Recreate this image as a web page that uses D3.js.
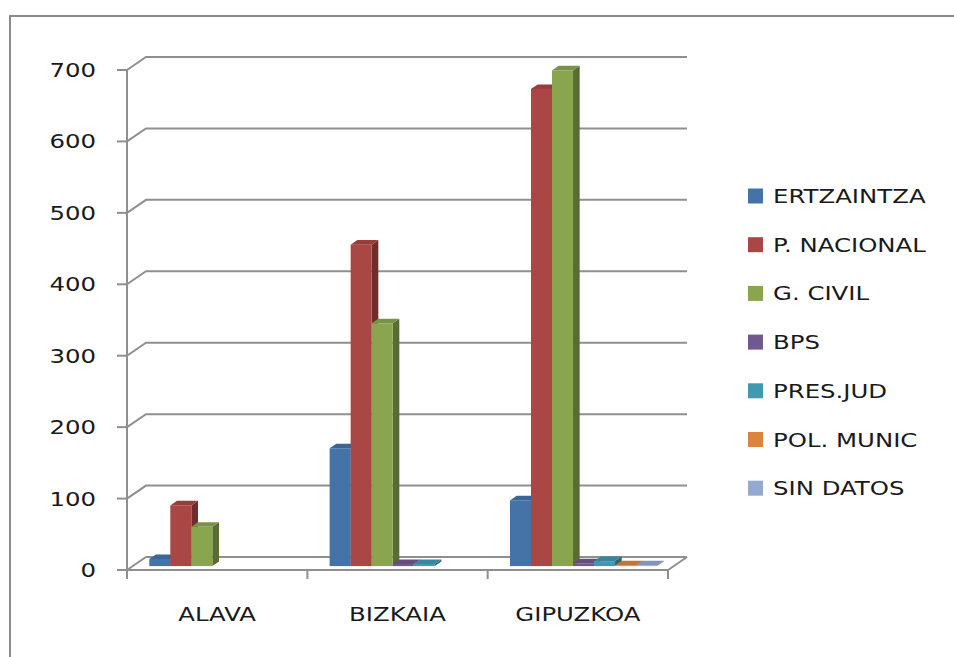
<!DOCTYPE html>
<html>
<head>
<meta charset="utf-8">
<script src="https://cdn.jsdelivr.net/npm/d3@7"></script>
<style>
  body { margin: 0; background: #fff; }
  text { font-family: "DejaVu Sans", sans-serif; fill: #1a1a1a; }
</style>
</head>
<body>
<div id="chart"></div>
<script>
// categories and series
const categories = ["ALAVA", "BIZKAIA", "GIPUZKOA"];
const seriesNames = ["ERTZAINTZA", "P. NACIONAL", "G. CIVIL", "BPS", "PRES.JUD", "POL. MUNIC", "SIN DATOS"];
const seriesColors = ["#4572A7", "#AA4643", "#89A54E", "#71588F", "#4198AF", "#DB843D", "#93A9CF"];

// values per series, in category order
const ertzaintza = [10, 165, 92];
const pNacional = [85, 450, 668];
const gCivil = [55, 340, 694];
const bps = [0, 3, 4];
const presJud = [0, 3, 7];
const polMunic = [0, 0, 1];
const sinDatos = [0, 0, 1];
const seriesValues = [ertzaintza, pNacional, gCivil, bps, presJud, polMunic, sinDatos];

const yTicks = [0, 100, 200, 300, 400, 500, 600, 700];

const W = 954, H = 657;
const stretch = 1.22; // the text in the picture is drawn wide

const svg = d3.select("#chart").append("svg")
  .attr("width", W)
  .attr("height", H);

// outer frame (only top and left are visible)
svg.append("path")
  .attr("d", "M10,657 L10,16 L954,16")
  .attr("fill", "none")
  .attr("stroke", "#8a8a8a")
  .attr("stroke-width", 2);

// plot geometry
const left = 127, right = 668;
const depth = { x: 19, y: -13 }; // floor depth vector

const x0 = d3.scaleBand().domain(categories).range([left, right]);
const x1 = d3.scaleBand().domain(seriesNames).range([0, x0.bandwidth()])
  .paddingInner(0).paddingOuter(0.79);
const y = d3.scaleLinear().domain([0, 700]).range([570, 70]);

const axisColor = "#8f8f8f";
const grid = svg.append("g")
  .attr("fill", "none")
  .attr("stroke", axisColor)
  .attr("stroke-width", 2);

// back wall gridlines with the little diagonal from the axis
yTicks.forEach(v => {
  const yy = y(v);
  grid.append("path")
    .attr("d", `M${left},${yy} L${left + depth.x},${yy + depth.y} L${right + depth.x},${yy + depth.y}`);
  // tick
  grid.append("line")
    .attr("x1", left - 10).attr("x2", left)
    .attr("y1", yy).attr("y2", yy);
});

// vertical axis
grid.append("line")
  .attr("x1", left).attr("x2", left)
  .attr("y1", y(700)).attr("y2", y(0));

// floor front edge and right diagonal
grid.append("path")
  .attr("d", `M${left},${y(0)} L${right},${y(0)} L${right + depth.x},${y(0) + depth.y}`);

// category ticks
const catEdges = categories.map(c => x0(c)).concat([right]);
catEdges.forEach(xx => {
  grid.append("line")
    .attr("x1", xx).attr("x2", xx)
    .attr("y1", y(0)).attr("y2", y(0) + 9);
});

// y tick labels
svg.append("g").selectAll("text")
  .data(yTicks)
  .join("text")
  .attr("transform", d => `translate(96,${y(d)}) scale(${stretch},1)`)
  .attr("text-anchor", "end")
  .attr("dy", "0.35em")
  .attr("font-size", 20)
  .text(d => d);

// category labels
svg.append("g").selectAll("text")
  .data(categories)
  .join("text")
  .attr("transform", d => `translate(${x0(d) + x0.bandwidth() / 2},${614}) scale(${stretch},1)`)
  .attr("text-anchor", "middle")
  .attr("dy", "0.35em")
  .attr("font-size", 20)
  .text(d => d);

// 3d bars: front plane at 30% of depth, bar depth 35%
const fz = 0.3, bz = 0.35;
const fdx = depth.x * fz, fdy = depth.y * fz;
const ddx = depth.x * bz, ddy = depth.y * bz;

const bars = svg.append("g");
categories.forEach((cat, ci) => {
  seriesNames.forEach((s, si) => {
    const v = seriesValues[si][ci];
    if (!v) return;
    const c = d3.color(seriesColors[si]);
    const xl = x0(cat) + x1(s) + fdx;
    const w = x1.bandwidth();
    const yb = y(0) + fdy;
    const yt = y(v) + fdy;
    const g = bars.append("g");
    // right side face
    g.append("polygon")
      .attr("points", [[xl + w, yt], [xl + w + ddx, yt + ddy], [xl + w + ddx, yb + ddy], [xl + w, yb]].join(" "))
      .attr("fill", c.darker(1.2));
    // top face
    g.append("polygon")
      .attr("points", [[xl, yt], [xl + w, yt], [xl + w + ddx, yt + ddy], [xl + ddx, yt + ddy]].join(" "))
      .attr("fill", c.darker(0.35));
    // front face
    g.append("rect")
      .attr("x", xl).attr("y", yt)
      .attr("width", w).attr("height", yb - yt)
      .attr("fill", c);
  });
});

// legend
const legend = svg.append("g");
seriesNames.forEach((s, i) => {
  const cy = 196 + i * 48.7;
  legend.append("rect")
    .attr("x", 748).attr("y", cy - 7.5)
    .attr("width", 15).attr("height", 15)
    .attr("fill", seriesColors[i]);
  legend.append("text")
    .attr("transform", `translate(773,${cy}) scale(${stretch},1)`)
    .attr("dy", "0.35em")
    .attr("font-size", 20)
    .text(s);
});
</script>
</body>
</html>
